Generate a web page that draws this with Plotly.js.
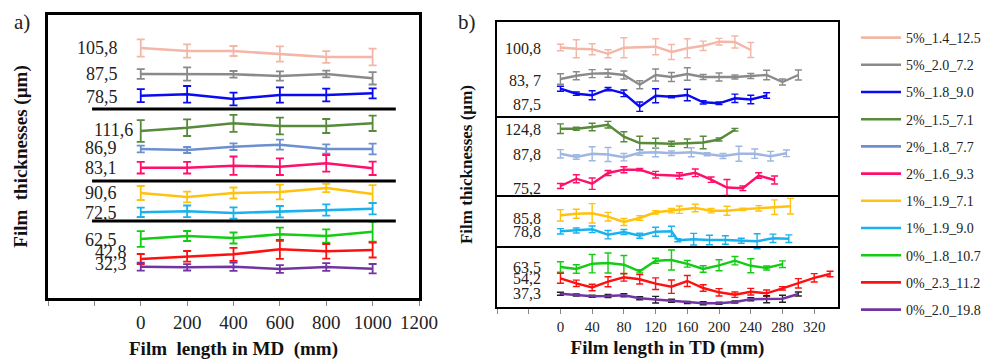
<!DOCTYPE html>
<html><head><meta charset="utf-8">
<script src="https://cdn.plot.ly/plotly-3.0.1.min.js"></script>
<style>html,body{margin:0;padding:0;background:#fff}#chart{width:987px;height:360px}</style>
</head><body><div id="chart"></div>
<script>
// ---------- series names ----------
const seriesNames = ['5%_1.4_12.5','5%_2.0_7.2','5%_1.8_9.0','2%_1.5_7.1','2%_1.8_7.7','2%_1.6_9.3','1%_1.9_7.1','1%_1.9_9.0','0%_1.8_10.7','0%_2.3_11.2','0%_2.0_19.8'];

// ---------- panel a (MD) : relative stacked display values ----------
const xMD = [0,200,400,600,800,1000];
const md1Y = [272,269,269,266,263,263],  md1E = [8.7,6.7,5,7.7,5.8,8.3];
const md2Y = [246,246,245.7,244,246,241.7], md2E = [4.8,6.7,3.3,4.7,3.3,6.2];
const md3Y = [224.3,225.7,221,225,225,226.7], md3E = [6.5,8.3,6.3,7.7,6.3,5];
const md4Y = [189,192.3,196.7,194,194,196.7], md4E = [10.8,8.3,8.5,8.3,7,7.7];
const md5Y = [171,170,173.3,175.3,171,171], md5E = [3.3,3,3.3,5,4.7,5.3];
const md6Y = [152.3,152.3,154.3,153.3,156.7,151.7], md6E = [5.8,5.8,9.2,8.3,8.3,6.7];
const md7Y = [127,123,127,128,132,126], md7E = [7,5.3,5.5,7.3,4.2,8.8];
const md8Y = [107.7,108.7,107,108.3,110,111.3], md8E = [4.7,5.8,5.7,5.7,5.7,5.7];
const md9Y = [81,84,82,85.7,84,88.3], md9E = [7.8,5,5.5,6.7,6.7,10];
const md10Y = [61,63.7,65.7,70.7,68.7,70], md10E = [5,5.3,6.5,9.5,7.3,7.5];
const md11Y = [53.3,52.7,53.3,51,53,51.3], md11E = [4,3.2,4.2,3.8,3.8,4.7];
const mdLabels = ['105,8','87,5','78,5','111,6','86,9','83,1','90,6','72,5','62,5','42,8','32,3'];
const mdTickVals = [-400,-200,0,200,400,600,800,1000,1200];
const mdTickText = ['','','0','200','400','600','800','1000','1200'];

// ---------- panel b (TD) ----------
const td1X = [0,20,40,60,80,120,140,160,180,200,220,240];
const td1Y = [272.5,271.2,270.8,266.2,272.3,273.3,268,271.7,274.2,278.3,278,270];
const td1E = [3.2,9,5.5,4,10,8,7.5,9.5,4.7,3.3,6,7.5];
const td2X = [0,20,40,60,80,100,120,140,160,180,200,220,240,260,280,300];
const td2Y = [241,244.2,246.4,246.7,245,235.3,245,243,246,243,243,243,244,245,238,245];
const td2E = [5.3,4,4,4,4,4,6,4.5,6.3,2.5,4,2,2.5,4.7,3,5];
const td3X = [0,20,40,60,80,100,120,140,160,180,200,220,240,260];
const td3Y = [231.3,226.3,224.7,230.8,226.7,213.3,224.2,223.3,225,217.7,216.7,221.7,220.5,224.5];
const td3E = [2.5,1.7,4.5,1.7,3.3,4.7,7,1,5.8,1.7,1.3,4.2,4.3,2.7];
const td4X = [0,20,40,60,80,100,120,140,160,180,200,220];
const td4Y = [191.3,191.3,193,195.3,183.3,177,176.7,176.2,176.7,177.5,180.5,190.3];
const td4E = [4.8,1.5,3.8,3.3,5,6.7,5,2.5,4.3,6.2,1.5,1.3];
const td5X = [0,20,40,60,80,100,120,140,165,185,205,225,245,265,285];
const td5Y = [166.2,163,166.2,165.5,162.8,167.2,167.8,166.7,167.8,165.8,164,166.3,166.3,163.8,166.7];
const td5E = [4.2,2.2,7,7,3.7,2.5,4.5,2.3,4.5,1.5,2.5,7.5,4.7,4.8,3.3];
const td6X = [0,20,40,60,80,100,120,150,170,190,210,230,250,270];
const td6Y = [134,141.3,136.3,147,150.3,150.3,145.3,144.3,147.2,140.3,132.5,131.7,144.5,140];
const td6E = [2.5,4,5.7,2.5,3,1.2,3.3,3,3.8,2.7,8,2.3,2.8,4];
const td7X = [0,20,40,60,80,100,120,140,150,170,190,210,230,250,270,290];
const td7Y = [104.7,106.3,106.7,103.3,98,102,107.7,109.3,110.3,112,109.3,109.3,110.7,111.7,112.8,113.8];
const td7E = [5.7,4.5,9.7,4.3,3.5,2.2,1.7,2.2,3.7,3.8,2.2,4.5,1.2,2.7,7.3,7.8];
const td8X = [0,20,40,60,80,100,120,140,148,168,188,208,228,248,268,288];
const td8Y = [88.7,89.5,90.7,85.3,88,84.3,88.3,88.7,79.7,80.8,80,80,79.2,78.8,81.7,81.3];
const td8E = [2.7,2.5,3.3,4.2,2.5,2.5,4.5,5,1.5,5.8,4.7,4.2,2.5,7.5,4.2,3.8];
const td9X = [0,20,40,60,80,100,120,140,160,180,200,220,240,260,280];
const td9Y = [53,51,56.3,57,55.3,48.7,59.3,60,56.2,51,54.7,59.3,54.2,52,55.8];
const td9E = [5.3,4.2,9.2,10,9.2,1.7,2.5,10,3.3,3.3,5.5,4.2,7,2,3.3];
const td10X = [0,20,40,60,80,100,120,140,160,180,200,220,240,260,280,300,320,340];
const td10Y = [41.7,36.7,32.5,38.3,42.7,40.7,36.3,33.3,39,32,27.7,25.3,28.3,26.7,31.7,36.7,42.2,46];
const td10E = [5,3.2,3.3,5,3.8,4.7,5.8,6.7,5.5,3.3,3.7,2.7,3.3,3.3,1.7,4.7,4.2,2.8];
const td11X = [0,20,40,60,80,100,120,140,160,180,200,220,240,260,280,300];
const td11Y = [26.3,25,23.7,24,24.7,21.7,20.3,19.2,17.5,16.7,16.7,18,20.7,20.8,21.3,26];
const td11E = [1.5,1,1,1.5,1.5,1.5,3.3,1.5,1,1.5,1,1,1.5,3.5,3.5,2];
const tdLabels = ['100,8','83,\u00a07','87,5','124,8','87,8','75,2','85,8','78,8','63,5','54,2','37,3'];
const tdTickVals = [-80,-40,0,40,80,120,160,200,240,280,320];
const tdTickText = ['','','0','40','80','120','160','200','240','280','320'];

// ---------- styling / placement ----------
const colorsA = ['#F4B6A6','#8A8A8A','#0A0AF0','#578A3A','#6E8FCF','#FF0F6A','#FFC20E','#1AB2EE','#14CC14','#FF1010','#7234A2'];
const colorsB = ['#F4B6A6','#8A8A8A','#0A0AF0','#578A3A','#A0B6E2','#FF0F6A','#FFC20E','#1AB2EE','#14CC14','#FF1010','#7234A2'];
const errColorsB = colorsB.slice(0,10).concat(['#222222']);
const mdLabelPos = [[-91,272],[-91,246],[-91,223],[-26,190],[-95,172],[-95,152],[-95,127],[-95,107],[-95,80],[-52,68],[-52,56]];
const tdLabelPos = [272,240,216,191,166,132,102,89,53,42,27];
const mdSep = [211,139,99];
const tdSep = [203,124,73];

const mdY = [md1Y,md2Y,md3Y,md4Y,md5Y,md6Y,md7Y,md8Y,md9Y,md10Y,md11Y];
const mdE = [md1E,md2E,md3E,md4E,md5E,md6E,md7E,md8E,md9E,md10E,md11E];
const tdX = [td1X,td2X,td3X,td4X,td5X,td6X,td7X,td8X,td9X,td10X,td11X];
const tdY = [td1Y,td2Y,td3Y,td4Y,td5Y,td6Y,td7Y,td8Y,td9Y,td10Y,td11Y];
const tdE = [td1E,td2E,td3E,td4E,td5E,td6E,td7E,td8E,td9E,td10E,td11E];

const traces = [];
for (let i = 0; i < seriesNames.length; i++) {
  traces.push({
    type:'scatter', mode:'lines', x:xMD, y:mdY[i], name:seriesNames[i],
    legendgroup:'g'+i, showlegend:true, xaxis:'x', yaxis:'y', hoverinfo:'skip',
    line:{color:colorsA[i], width:2.6},
    error_y:{type:'data', array:mdE[i], visible:true, color:colorsA[i], thickness:1.8, width:4}
  });
}
for (let i = 0; i < seriesNames.length; i++) {
  traces.push({
    type:'scatter', mode:'lines', x:tdX[i], y:tdY[i], name:seriesNames[i],
    legendgroup:'g'+i, showlegend:false, xaxis:'x2', yaxis:'y2', hoverinfo:'skip',
    line:{color:colorsB[i], width:2.4},
    error_y:{type:'data', array:tdE[i], visible:true, color:errColorsB[i], thickness:1.4, width:3.5}
  });
}

const W = 987, H = 360;
const serif = 'Liberation Serif, serif';
const annotations = [];
mdLabels.forEach((t,i)=>annotations.push({xref:'x', yref:'y', x:mdLabelPos[i][0], y:mdLabelPos[i][1], text:t, showarrow:false, xanchor:'right', yanchor:'middle', font:{size:18, color:'#222'}}));
tdLabels.forEach((t,i)=>annotations.push({xref:'x2', yref:'y2', x:-22, y:tdLabelPos[i], text:t, showarrow:false, xanchor:'right', yanchor:'middle', font:{size:16, color:'#222'}}));
annotations.push({xref:'paper', yref:'paper', x:12/W, y:1-8/H, text:'a)', showarrow:false, xanchor:'left', yanchor:'top', font:{size:21, color:'#222'}});
annotations.push({xref:'paper', yref:'paper', x:456/W, y:1-8/H, text:'b)', showarrow:false, xanchor:'left', yanchor:'top', font:{size:21, color:'#222'}});

const shapes = [];
mdSep.forEach(v=>shapes.push({type:'line', xref:'x', yref:'y', x0:-210, x1:1100, y0:v, y1:v, line:{color:'#000', width:3}}));
tdSep.forEach(v=>shapes.push({type:'line', xref:'x2 domain', yref:'y2', x0:0, x1:1, y0:v, y1:v, line:{color:'#000', width:2}}));

const layout = {
  width:W, height:H, margin:{l:0,r:0,t:0,b:0},
  paper_bgcolor:'#fff', plot_bgcolor:'#fff',
  font:{family:serif, color:'#000'},
  showlegend:true,
  legend:{x:856/W, y:1-22/H, xanchor:'left', yanchor:'top', traceorder:'grouped', tracegroupgap:6,
          font:{family:serif, size:14, color:'#222'}, bgcolor:'rgba(0,0,0,0)', itemwidth:40},
  xaxis:{domain:[48/W,419/W], range:[-400,1200], anchor:'y', tickmode:'array', tickvals:mdTickVals, ticktext:mdTickText,
         ticks:'outside', ticklen:5, tickcolor:'#888', tickwidth:1, showline:true, linecolor:'#000', linewidth:3, mirror:true,
         showgrid:false, zeroline:false, tickfont:{family:serif, size:19, color:'#222'},
         title:{text:'<b>Film\u00a0 length in MD\u00a0 (mm)</b>', font:{family:serif, size:19, color:'#111'}, standoff:13}},
  yaxis:{domain:[1-298/H,1-15/H], range:[22,305], anchor:'x', showticklabels:false, ticks:'', showline:true, linecolor:'#000',
         linewidth:3, mirror:true, showgrid:false, zeroline:false,
         title:{text:'<b>Film\u00a0 thicknesses (µm)</b>', font:{family:serif, size:19, color:'#111'}, standoff:13}},
  xaxis2:{domain:[497/W,838/W], range:[-80,350], anchor:'y2', tickmode:'array', tickvals:tdTickVals, ticktext:tdTickText,
         ticks:'outside', ticklen:5, tickcolor:'#888', tickwidth:1, showline:true, linecolor:'#000', linewidth:2, mirror:true,
         showgrid:false, zeroline:false, tickfont:{family:serif, size:15, color:'#222'},
         title:{text:'<b>Film length in TD (mm)</b>', font:{family:serif, size:19, color:'#111'}, standoff:7}},
  yaxis2:{domain:[1-307/H,1-22/H], range:[13,298], anchor:'x2', showticklabels:false, ticks:'', showline:true, linecolor:'#000',
         linewidth:2, mirror:true, showgrid:false, zeroline:false,
         title:{text:'<b>Film thicknesses (µm)</b>', font:{family:serif, size:17, color:'#111'}, standoff:18}},
  annotations:annotations, shapes:shapes
};
Plotly.newPlot('chart', traces, layout, {displayModeBar:false, staticPlot:true});
</script></body></html>
